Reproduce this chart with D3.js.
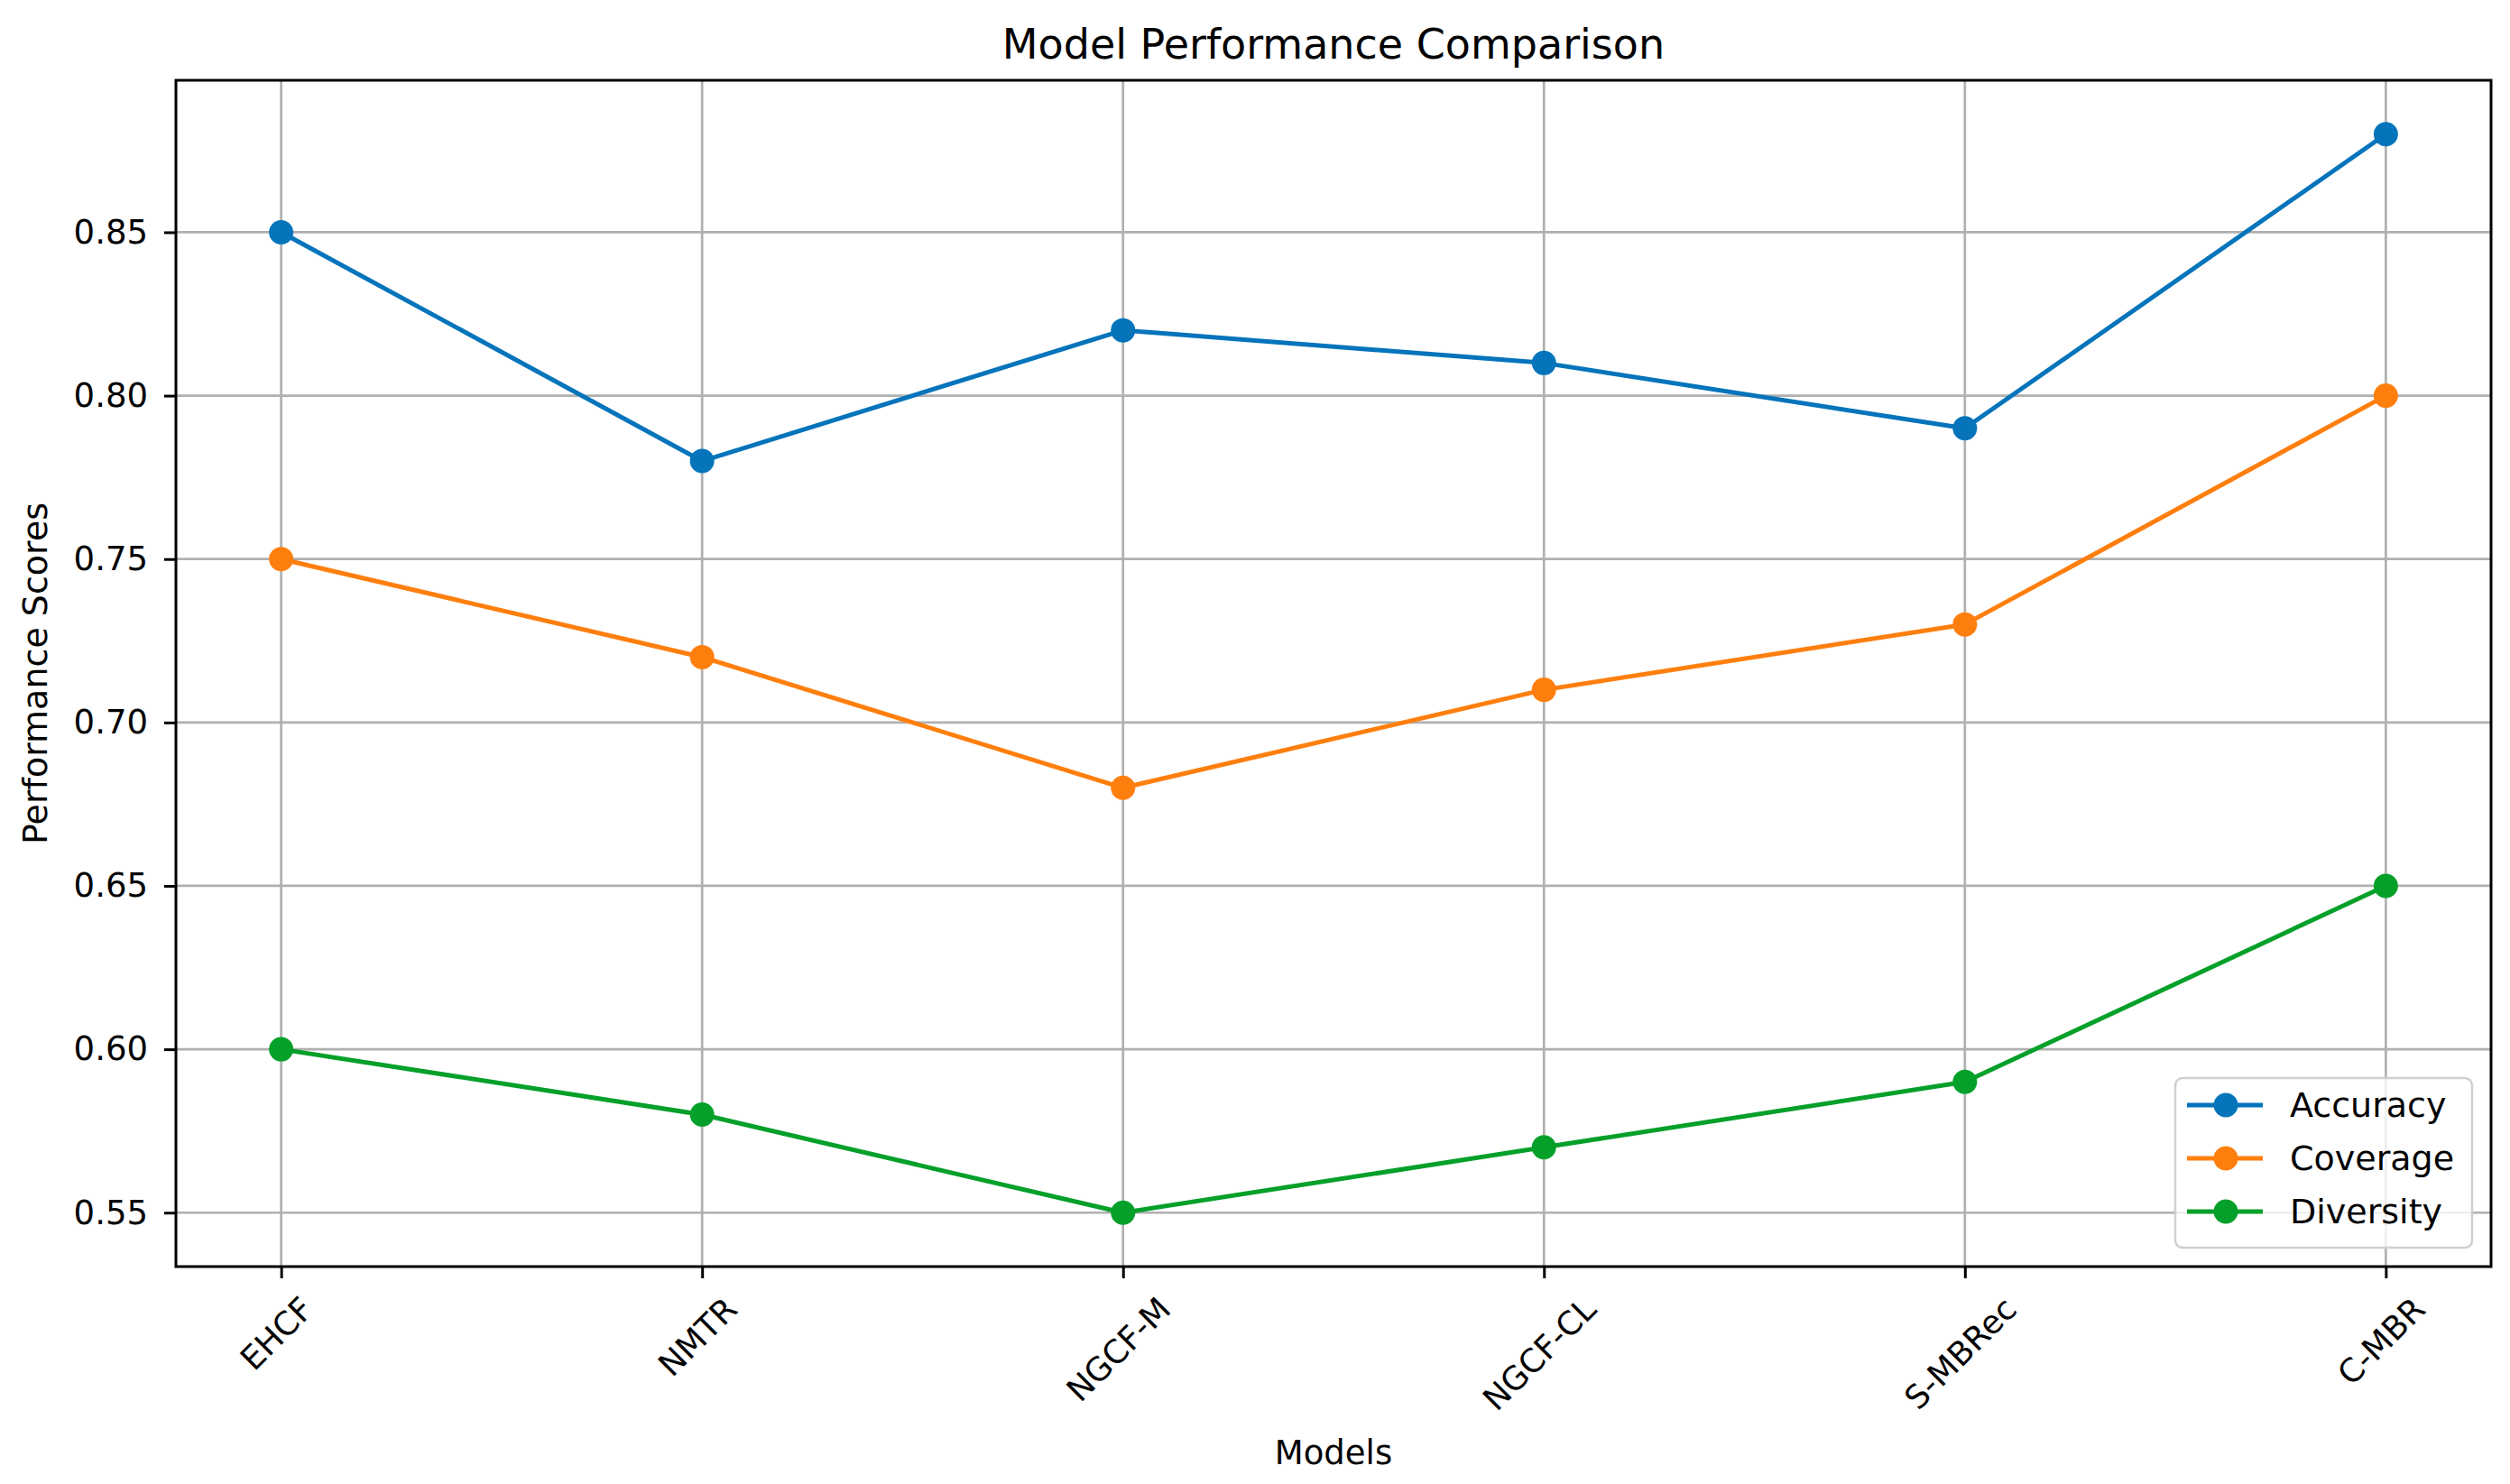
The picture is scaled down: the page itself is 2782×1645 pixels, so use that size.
<!DOCTYPE html>
<html lang="en">
  <head>
    <meta charset="UTF-8" />
    <title>Model Performance Comparison</title>
    <style>
      body { margin: 0; background: #fff; }
      text { font-family: "DejaVu Sans", sans-serif; fill: #000; }
    </style>
  </head>
  <body>
    <div id="viz"></div>
    <script src="https://cdnjs.cloudflare.com/ajax/libs/d3/7.8.5/d3.min.js"></script>
    <script>
      // data
      const models = ["EHCF", "NMTR", "NGCF-M", "NGCF-CL", "S-MBRec", "C-MBR"];
      const accuracy = [0.85, 0.78, 0.82, 0.81, 0.79, 0.88];
      const coverage = [0.75, 0.72, 0.68, 0.71, 0.73, 0.80];
      const diversity = [0.60, 0.58, 0.55, 0.57, 0.59, 0.65];
      const yTicks = [0.55, 0.60, 0.65, 0.70, 0.75, 0.80, 0.85];

      const series = [
        { name: "Accuracy", values: accuracy, color: "#0574bb" },
        { name: "Coverage", values: coverage, color: "#ff7f0e" },
        { name: "Diversity", values: diversity, color: "#05a02a" }
      ];

      let width = 2782,
          height = 1645,
          margin = { top: 89, right: 21, bottom: 241, left: 195 },
          widthr = width - margin.left - margin.right,
          heightr = height - margin.top - margin.bottom;

      let svg = d3.select("#viz")
        .append("svg")
        .attr("width", width)
        .attr("height", height);

      let g = svg.append("g")
        .attr("transform", `translate(${margin.left}, ${margin.top})`);

      let x = d3.scaleLinear()
        .domain([-0.25, models.length - 0.75])
        .range([0, widthr]);

      let y = d3.scaleLinear()
        .domain([0.5335, 0.8965])
        .range([heightr, 0]);

      // grid
      g.append("g")
        .selectAll("line.gx")
        .data(models)
        .join("line")
        .attr("x1", (d, i) => x(i))
        .attr("x2", (d, i) => x(i))
        .attr("y1", 0)
        .attr("y2", heightr)
        .attr("stroke", "#b0b0b0")
        .attr("stroke-width", 2.7);

      g.append("g")
        .selectAll("line.gy")
        .data(yTicks)
        .join("line")
        .attr("x1", 0)
        .attr("x2", widthr)
        .attr("y1", d => y(d))
        .attr("y2", d => y(d))
        .attr("stroke", "#b0b0b0")
        .attr("stroke-width", 2.7);

      // y axis
      let yAxis = g.append("g")
        .call(d3.axisLeft(y).tickValues(yTicks).tickFormat(d3.format(".2f")).tickSize(13).tickPadding(18));
      yAxis.select(".domain").remove();
      yAxis.selectAll(".tick line").attr("stroke", "#000").attr("stroke-width", 3);
      yAxis.selectAll(".tick text")
        .style("font-size", "37px")
        .style("font-family", "'DejaVu Sans', sans-serif")
        .attr("fill", "#000");

      // x axis ticks
      let xAxis = g.append("g")
        .attr("transform", `translate(0, ${heightr})`)
        .call(d3.axisBottom(x).tickValues(d3.range(models.length)).tickFormat("").tickSize(13));
      xAxis.select(".domain").remove();
      xAxis.selectAll(".tick line").attr("stroke", "#000").attr("stroke-width", 3);

      // rotated x labels, bbox centred on the tick like matplotlib
      let labelTop = heightr + 30;
      g.append("g")
        .selectAll("text")
        .data(models)
        .join("text")
        .text(d => d)
        .style("font-size", "36px")
        .attr("text-anchor", "middle")
        .attr("dominant-baseline", "central")
        .each(function (d, i) {
          let w = this.getComputedTextLength();
          let h = 30;
          let half = (w * Math.SQRT1_2 + h * Math.SQRT1_2) / 2;
          let cx = x(i) - 5, cy = labelTop + half;
          d3.select(this)
            .attr("x", cx)
            .attr("y", cy)
            .attr("transform", `rotate(-45, ${cx}, ${cy})`);
        });

      // lines and markers
      let line = d3.line()
        .x((d, i) => x(i))
        .y(d => y(d));

      series.forEach(s => {
        g.append("path")
          .datum(s.values)
          .attr("d", line)
          .attr("fill", "none")
          .attr("stroke", s.color)
          .attr("stroke-width", 5)
          .attr("stroke-linejoin", "round");

        g.append("g")
          .selectAll("circle")
          .data(s.values)
          .join("circle")
          .attr("cx", (d, i) => x(i))
          .attr("cy", d => y(d))
          .attr("r", 13.5)
          .attr("fill", s.color);
      });

      // frame
      g.append("rect")
        .attr("width", widthr)
        .attr("height", heightr)
        .attr("fill", "none")
        .attr("stroke", "#000")
        .attr("stroke-width", 3);

      // legend
      let legend = g.append("g")
        .attr("transform", `translate(${2411 - margin.left}, ${1195 - margin.top})`);

      legend.append("rect")
        .attr("width", 329)
        .attr("height", 188)
        .attr("rx", 8)
        .attr("fill", "#fff")
        .attr("fill-opacity", 0.8)
        .attr("stroke", "#d0d0d0")
        .attr("stroke-width", 2.5);

      series.forEach((s, i) => {
        let ry = 30 + i * 59;
        legend.append("line")
          .attr("x1", 13)
          .attr("x2", 97)
          .attr("y1", ry)
          .attr("y2", ry)
          .attr("stroke", s.color)
          .attr("stroke-width", 5);
        legend.append("circle")
          .attr("cx", 56)
          .attr("cy", ry)
          .attr("r", 13.5)
          .attr("fill", s.color);
        legend.append("text")
          .attr("x", 127)
          .attr("y", ry)
          .attr("dominant-baseline", "central")
          .style("font-size", "38px")
          .text(s.name);
      });

      // titles
      svg.append("text")
        .attr("x", margin.left + widthr / 2)
        .attr("y", 65)
        .attr("text-anchor", "middle")
        .style("font-size", "46px")
        .text("Model Performance Comparison");

      svg.append("text")
        .attr("x", margin.left + widthr / 2)
        .attr("y", 1623)
        .attr("text-anchor", "middle")
        .style("font-size", "37px")
        .text("Models");

      svg.append("text")
        .attr("transform", `translate(39, ${margin.top + heightr / 2}) rotate(-90)`)
        .attr("text-anchor", "middle")
        .attr("dominant-baseline", "central")
        .style("font-size", "38px")
        .text("Performance Scores");
    </script>
  </body>
</html>
